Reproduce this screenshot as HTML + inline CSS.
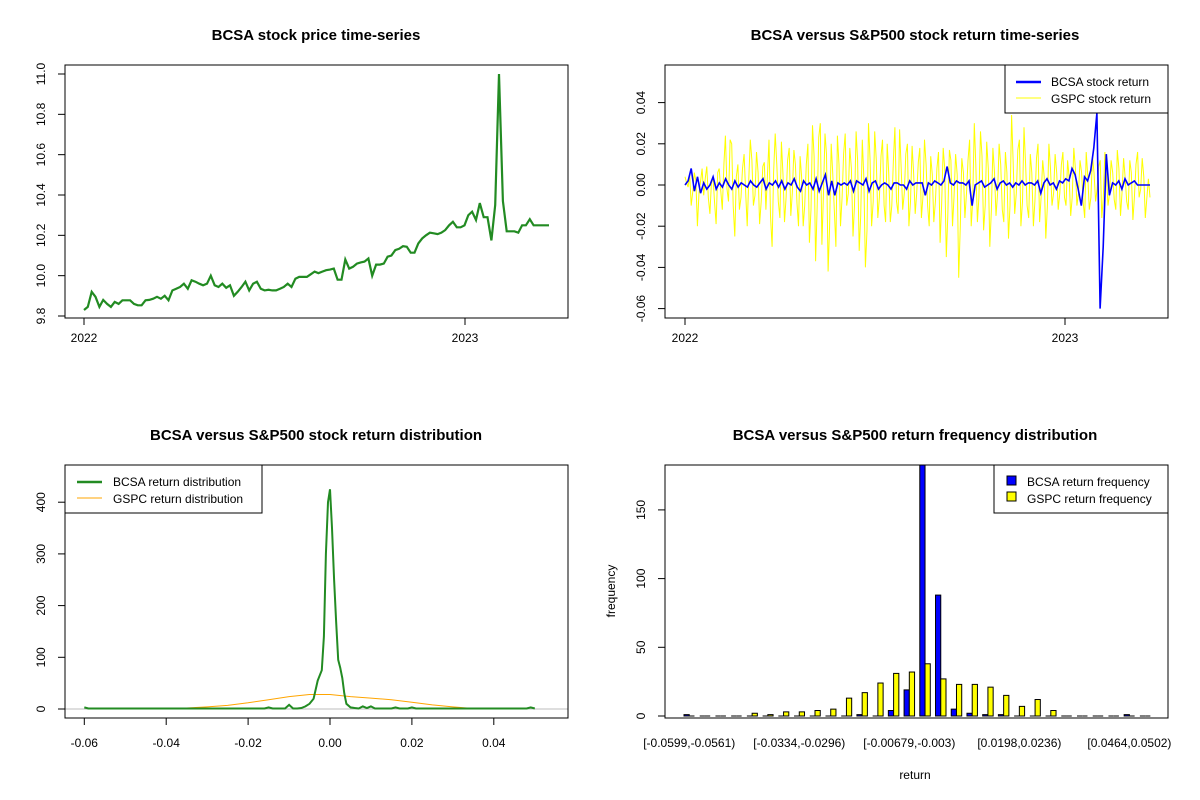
<!DOCTYPE html>
<html><head><meta charset="utf-8">
<style>
html,body{margin:0;padding:0;background:#fff;}
svg{display:block;font-family:"Liberation Sans",Arial,sans-serif;}
</style></head>
<body>
<svg id="chart" width="1200" height="800" viewBox="0 0 1200 800" xmlns="http://www.w3.org/2000/svg"></svg>
<script>
// ---------- DATA ----------
const priceValues = [9.83,9.845,9.92,9.895,9.845,9.88,9.86,9.845,9.87,9.86,9.878,9.878,9.878,9.86,9.853,9.853,9.878,9.88,9.886,9.895,9.886,9.9,9.878,9.927,9.935,9.944,9.96,9.935,9.977,9.97,9.96,9.952,9.96,10.0,9.952,9.944,9.96,9.94,9.952,9.9,9.92,9.944,9.97,9.927,9.96,9.97,9.935,9.927,9.93,9.927,9.927,9.935,9.944,9.96,9.944,9.985,9.994,9.994,9.994,10.007,10.02,10.012,10.02,10.027,10.03,10.035,9.98,9.98,10.08,10.035,10.044,10.06,10.066,10.07,10.085,10.0,10.055,10.055,10.06,10.094,10.1,10.127,10.133,10.146,10.143,10.114,10.114,10.16,10.185,10.2,10.213,10.21,10.206,10.213,10.226,10.25,10.267,10.24,10.24,10.25,10.3,10.317,10.276,10.36,10.29,10.29,10.175,10.35,11.0,10.37,10.22,10.22,10.22,10.213,10.25,10.25,10.28,10.25,10.25,10.25,10.25,10.25];
const priceYTicks = [9.8,10.0,10.2,10.4,10.6,10.8,11.0];
const yearTicks = ["2022","2023"];
const gspcReturns = [
0.004,0.001,-0.001,0.005,-0.01,-0.003,0.006,0.002,-0.02,-0.004,0.002,0.008,-0.005,0.003,0.009,-0.006,-0.014,0.001,0.004,-0.008,-0.019,0.006,0.008,-0.003,-0.012,0.01,0.024,-0.002,-0.008,0.022,
0.02,-0.01,-0.025,0.004,0.01,-0.012,-0.006,0.008,0.015,-0.004,-0.02,0.003,0.022,0.012,-0.01,-0.005,0.016,0.006,-0.019,-0.008,0.009,0.011,-0.012,0.004,0.022,-0.015,-0.03,0.006,0.025,0.01,
-0.008,-0.016,0.021,0.005,-0.018,-0.006,0.012,0.018,-0.015,-0.004,0.017,0.01,-0.009,-0.02,0.014,0.004,-0.02,-0.01,0.01,0.02,-0.028,-0.012,0.029,0.014,-0.037,-0.01,0.023,0.03,-0.029,-0.005,
0.025,0.015,-0.042,-0.02,0.02,0.006,-0.012,-0.03,0.024,0.01,-0.02,-0.006,0.015,0.025,-0.01,-0.004,0.018,0.008,-0.025,-0.01,0.026,0.012,-0.032,-0.015,0.022,0.004,-0.04,-0.022,0.03,0.012,
-0.02,-0.008,0.026,0.012,-0.016,-0.006,0.014,0.022,-0.01,-0.018,0.02,0.006,-0.018,-0.01,0.012,0.028,-0.008,-0.014,0.027,0.008,-0.012,-0.004,0.015,0.02,-0.02,-0.008,0.019,0.006,-0.014,-0.004,
0.011,0.018,-0.016,-0.006,0.022,0.01,-0.01,-0.02,0.014,0.005,-0.018,-0.008,0.008,0.016,-0.028,-0.01,0.018,0.008,-0.035,-0.015,0.017,0.012,-0.02,-0.006,0.015,0.005,-0.045,-0.02,0.013,0.006,
-0.016,-0.004,0.012,0.022,-0.02,-0.008,0.03,0.01,-0.018,-0.006,0.026,0.014,-0.022,-0.01,0.021,0.008,-0.03,-0.012,0.018,0.006,-0.015,-0.004,0.02,0.01,-0.012,-0.018,0.016,0.006,-0.026,-0.01,
0.034,0.012,-0.014,-0.004,0.017,0.022,-0.02,-0.008,0.028,0.01,-0.01,-0.016,0.015,0.006,-0.02,-0.008,0.013,0.02,-0.018,-0.006,0.012,0.004,-0.026,-0.01,0.02,0.008,-0.01,-0.004,0.015,0.006,
-0.012,-0.004,0.01,0.016,-0.006,-0.01,0.012,0.004,-0.015,-0.006,0.018,0.008,-0.01,-0.004,0.012,0.006,-0.008,-0.016,0.016,0.004,-0.012,-0.006,0.014,0.006,-0.008,-0.002,0.009,0.012,-0.016,-0.006,
0.016,0.004,-0.01,-0.004,0.012,0.006,-0.007,-0.012,0.017,0.008,-0.015,-0.004,0.013,0.004,-0.008,-0.012,0.012,0.006,-0.017,-0.006,0.01,0.016,-0.006,-0.002,0.013,0.004,-0.016,-0.006,0.003,-0.006];
const bcsaReturns = [0,0.002,0.008,-0.003,0.004,-0.004,0.001,-0.002,0,0.004,
-0.002,0.001,-0.001,0.003,0,-0.002,0.002,-0.001,0.001,0,
-0.001,0.002,0,-0.001,0.001,0.003,-0.002,0.001,0,0.002,
-0.001,0.002,-0.002,0.001,0,0.003,-0.001,-0.003,0.002,0,
0.001,-0.002,0.003,-0.003,0.001,0.005,-0.005,0.002,-0.005,0.001,
0,0.001,0,0.002,-0.003,0.002,0.001,0,0.003,-0.003,
0.001,0.002,-0.002,0,0.001,0,-0.002,0.001,0.001,0,
0,-0.002,0.002,0,0.001,0.001,0.001,-0.005,0.001,0,
0.002,0.001,0,0.002,0.009,0.001,0,0.002,0.001,0.001,
0,0.002,-0.01,0,0.001,0.002,-0.001,0,0.001,0.003,
-0.002,0.001,0.002,0,0.001,-0.001,0.001,0,0.002,0,
0.001,0.001,0,0.002,-0.004,0.001,0.003,0,0.001,-0.002,
0.002,0.001,0.003,0.002,0.008,0.005,-0.002,-0.01,0.004,0.002,
0.007,0.018,0.035,-0.06,-0.03,0.015,-0.005,0.001,0,0.002,
-0.002,0.003,0,0.001,0.002,0,0,0,0,0];
const returnYTicks = [-0.06,-0.04,-0.02,0.00,0.02,0.04];
const returnYLabels = ["-0.06","-0.04","-0.02","0.00","0.02","0.04"];
const bcsaDensX = [-0.06,-0.059,-0.058,-0.05,-0.04,-0.03,-0.02,-0.016,-0.015,-0.014,-0.011,-0.010,-0.009,-0.008,-0.007,-0.006,-0.005,-0.004,-0.003,-0.002,-0.0015,-0.001,-0.0005,0.0,0.0005,0.001,0.0015,0.002,0.0025,0.003,0.0035,0.004,0.005,0.006,0.007,0.008,0.009,0.010,0.011,0.012,0.015,0.016,0.017,0.019,0.020,0.021,0.03,0.04,0.048,0.049,0.050];
const bcsaDensY = [3,1,1,1,1,1,1,1,3,1,1,8,1,1,2,5,10,20,55,75,140,300,400,425,350,250,170,95,80,60,30,10,3,2,1,5,2,5,1,1,1,3,1,1,3,1,1,1,1,3,1];
const gspcDensX = [-0.045,-0.04,-0.035,-0.03,-0.025,-0.02,-0.015,-0.01,-0.005,0,0.005,0.01,0.015,0.02,0.025,0.03,0.035];
const gspcDensY = [0.5,1,2,4,7,12,18,24,28,28,24,21,18,13,8,4,1];
const densXTicks = [-0.06,-0.04,-0.02,0.00,0.02,0.04];
const densXLabels = ["-0.06","-0.04","-0.02","0.00","0.02","0.04"];
const densYTicks = [0,100,200,300,400];
const binLabels = ["[-0.0599,-0.0561)","[-0.0334,-0.0296)","[-0.00679,-0.003)","[0.0198,0.0236)","[0.0464,0.0502)"];
const binLabelIdx = [0,7,14,21,28];
const bcsaFreq = [1,0,0,0,0,0,0,0,0,0,0,1,0,4,19,185,88,5,2,1,1,0,0,0,0,0,0,0,1,0];
const gspcFreq = [0,0,0,0,2,1,3,3,4,5,13,17,24,31,32,38,27,23,23,21,15,7,12,4,0,0,0,0,0,0];
const freqYTicks = [0,50,100,150];

// ---------- HELPERS ----------
const svg = document.getElementById('chart');
const NS = 'http://www.w3.org/2000/svg';
function mk(tag, attrs, parent){
  const e = document.createElementNS(NS, tag);
  for (const k in attrs) e.setAttribute(k, attrs[k]);
  (parent||svg).appendChild(e);
  return e;
}
function txt(s, x, y, opts, parent){
  const t = mk('text', Object.assign({x:x, y:y, 'font-size':12, fill:'#000', 'text-anchor':'middle'}, opts||{}), parent);
  t.textContent = s;
  return t;
}
function lin(d0,d1,r0,r1){ return v => r0 + (v-d0)/(d1-d0)*(r1-r0); }

// ---------- PANEL 1: price ----------
(function(){
  const g = mk('g', {});
  
  
  const L=65,R=568,T=65,B=318;
  const x = lin(0, 121, 84, 549);
  const yearX = lin(2022, 2023, 84, 465);
  const y = lin(9.8, 11.0, 316, 74);
  const t = txt('BCSA stock price time-series', 316, 40, {'font-size':15,'font-weight':'bold'}, g);
  
  
  let d = '';
  priceValues.forEach((v,i)=>{ d += (i?'L':'M') + x(i).toFixed(1) + ' ' + y(v).toFixed(1); });
  const p = mk('path', {d:d, fill:'none', stroke:'#228b22', 'stroke-width':2.2}, g);
  
  
  const box = mk('rect', {x:L, y:T, width:R-L, height:B-T, fill:'none', stroke:'#000'}, g);
  
  
  priceYTicks.forEach(v=>{
    mk('line', {x1:L, x2:L-7, y1:y(v), y2:y(v), stroke:'#000'}, g);
    const lb = txt(v.toFixed(1), 0, 0, {transform:`translate(45,${y(v)}) rotate(-90)`}, g);
    
    
  });
  yearTicks.forEach(s=>{
    const xx = yearX(+s);
    mk('line', {x1:xx, x2:xx, y1:B, y2:B+7, stroke:'#000'}, g);
    const lb = txt(s, xx, 342, {}, g);
    
    
  });
})();

// ---------- PANEL 2: returns ----------
(function(){
  const g = mk('g', {});
  
  
  const L=665,R=1168,T=65,B=318;
  const n = gspcReturns.length;
  const x = lin(0, n-1, 685, 1150);
  const yearX = lin(2022, 2023, 685, 1065);
  const y = lin(0, 0.02, 185, 143.8);
  const t = txt('BCSA versus S&P500 stock return time-series', 915, 40, {'font-size':15,'font-weight':'bold'}, g);
  
  
  let d = '';
  gspcReturns.forEach((v,i)=>{ d += (i?'L':'M') + x(i).toFixed(1) + ' ' + y(v).toFixed(1); });
  const p1 = mk('path', {d:d, fill:'none', stroke:'#ffff00', 'stroke-width':1}, g);
  
  
  const xb = lin(0, bcsaReturns.length-1, 685, 1150);
  let d2 = '';
  bcsaReturns.forEach((v,i)=>{ d2 += (i?'L':'M') + xb(i).toFixed(1) + ' ' + y(v).toFixed(1); });
  const p2 = mk('path', {d:d2, fill:'none', stroke:'#0000ff', 'stroke-width':1.6}, g);
  
  
  const box = mk('rect', {x:L, y:T, width:R-L, height:B-T, fill:'none', stroke:'#000'}, g);
  
  
  returnYTicks.forEach((v,i)=>{
    mk('line', {x1:L, x2:L-7, y1:y(v), y2:y(v), stroke:'#000'}, g);
    const lb = txt(returnYLabels[i], 0, 0, {transform:`translate(645,${y(v)}) rotate(-90)`}, g);
    
    
  });
  yearTicks.forEach(s=>{
    const xx = yearX(+s);
    mk('line', {x1:xx, x2:xx, y1:B, y2:B+7, stroke:'#000'}, g);
    const lb = txt(s, xx, 342, {}, g);
    
    
  });
  const lg = mk('g', {}, g);
  
  
  mk('rect', {x:1005, y:65, width:163, height:48, fill:'#fff', stroke:'#000'}, lg);
  mk('line', {x1:1016, x2:1041, y1:82, y2:82, stroke:'#0000ff', 'stroke-width':2.5}, lg);
  mk('line', {x1:1016, x2:1041, y1:98, y2:98, stroke:'#ffff00', 'stroke-width':1}, lg);
  const a = txt('BCSA stock return', 1051, 86, {'text-anchor':'start'}, lg);
  
  
  const b = txt('GSPC stock return', 1051, 103, {'text-anchor':'start'}, lg);
  
  
})();

// ---------- PANEL 3: density ----------
(function(){
  const g = mk('g', {});
  
  
  const L=65,R=568,T=465,B=718;
  const x = lin(0, 0.02, 330, 411.9);
  const y = lin(0, 100, 709, 657.3);
  const t = txt('BCSA versus S&P500 stock return distribution', 316, 440, {'font-size':15,'font-weight':'bold'}, g);
  
  
  const base = mk('line', {x1:L, x2:R, y1:y(0), y2:y(0), stroke:'#bebebe'}, g);
  
  
  let d = '';
  gspcDensX.forEach((v,i)=>{ d += (i?'L':'M') + x(v).toFixed(1) + ' ' + y(gspcDensY[i]).toFixed(1); });
  const p1 = mk('path', {d:d, fill:'none', stroke:'#ffa500', 'stroke-width':1}, g);
  
  
  let d2 = '';
  bcsaDensX.forEach((v,i)=>{ d2 += (i?'L':'M') + x(v).toFixed(1) + ' ' + y(bcsaDensY[i]).toFixed(1); });
  const p2 = mk('path', {d:d2, fill:'none', stroke:'#228b22', 'stroke-width':2}, g);
  
  
  const box = mk('rect', {x:L, y:T, width:R-L, height:B-T, fill:'none', stroke:'#000'}, g);
  
  
  densYTicks.forEach(v=>{
    mk('line', {x1:L, x2:L-7, y1:y(v), y2:y(v), stroke:'#000'}, g);
    const lb = txt(String(v), 0, 0, {transform:`translate(45,${y(v)}) rotate(-90)`}, g);
    
    
  });
  densXTicks.forEach((v,i)=>{
    mk('line', {x1:x(v), x2:x(v), y1:B, y2:B+7, stroke:'#000'}, g);
    const lb = txt(densXLabels[i], x(v), 747, {}, g);
    
    
  });
  const lg = mk('g', {}, g);
  
  
  mk('rect', {x:65, y:465, width:197, height:48, fill:'#fff', stroke:'#000'}, lg);
  mk('line', {x1:77, x2:102, y1:482, y2:482, stroke:'#228b22', 'stroke-width':2.5}, lg);
  mk('line', {x1:77, x2:102, y1:498, y2:498, stroke:'#ffa500', 'stroke-width':1}, lg);
  const a = txt('BCSA return distribution', 113, 486, {'text-anchor':'start'}, lg);
  
  
  const b = txt('GSPC return distribution', 113, 503, {'text-anchor':'start'}, lg);
  
  
})();

// ---------- PANEL 4: histogram ----------
(function(){
  const g = mk('g', {});
  
  
  const L=665,R=1168,T=465,B=718;
  const ux = lin(1, 91, 684, 1155.6);
  const y = lin(0, 50, 716, 647.3);
  const t = txt('BCSA versus S&P500 return frequency distribution', 915, 440, {'font-size':15,'font-weight':'bold'}, g);
  
  
  mk('clipPath', {id:'histclip'}, g);
  const cp = g.lastChild;
  mk('rect', {x:L, y:T, width:R-L, height:B-T}, cp);
  const bars = mk('g', {'clip-path':'url(#histclip)'}, g);
  const bw = ux(2)-ux(1);
  function bar(x0, v, fill){
    if (v > 0) {
      return mk('rect', {x:x0, y:y(v), width:bw, height:y(0)-y(v), fill:fill, stroke:'#000', 'stroke-width':1}, bars);
    }
    return mk('line', {x1:x0, x2:x0+bw, y1:y(0), y2:y(0), stroke:'#000', 'stroke-width':1}, bars);
  }
  bcsaFreq.forEach((v,i)=>{
    const x0 = ux(1 + i*3);
    const r = bar(x0, v, '#0000ff');
    
    
    const r2 = bar(x0+bw, gspcFreq[i], '#ffff00');
    
    
  });
  const box = mk('rect', {x:L, y:T, width:R-L, height:B-T, fill:'none', stroke:'#000'}, g);
  
  
  freqYTicks.forEach(v=>{
    mk('line', {x1:L, x2:L-7, y1:y(v), y2:y(v), stroke:'#000'}, g);
    const lb = txt(String(v), 0, 0, {transform:`translate(645,${y(v)}) rotate(-90)`}, g);
    
    
  });
  binLabelIdx.forEach((bi,k)=>{
    const lb = txt(binLabels[k], ux(1+bi*3+1), 747, {}, g);
    
    
  });
  const xl = txt('return', 915, 779, {}, g);
  
  
  const yl = txt('frequency', 0, 0, {transform:'translate(615,591) rotate(-90)'}, g);
  
  
  const lg = mk('g', {}, g);
  
  
  mk('rect', {x:994, y:465, width:174, height:48, fill:'#fff', stroke:'#000'}, lg);
  mk('rect', {x:1007, y:476, width:9, height:9, fill:'#0000ff', stroke:'#000'}, lg);
  mk('rect', {x:1007, y:492, width:9, height:9, fill:'#ffff00', stroke:'#000'}, lg);
  const a = txt('BCSA return frequency', 1027, 486, {'text-anchor':'start'}, lg);
  
  
  const b = txt('GSPC return frequency', 1027, 503, {'text-anchor':'start'}, lg);
  
  
})();
</script>
</body></html>
